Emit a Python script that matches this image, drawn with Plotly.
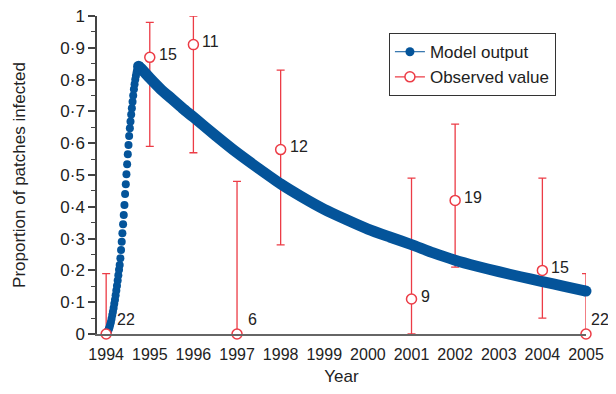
import plotly.graph_objects as go
import numpy as np

# ---- Data ----
# Model output, rising phase (individual dots)
rise_years = [1994.000, 1994.016, 1994.031, 1994.047, 1994.062, 1994.078, 1994.093, 1994.109,
              1994.124, 1994.140, 1994.155, 1994.171, 1994.186, 1994.202, 1994.217, 1994.233,
              1994.248, 1994.264, 1994.279, 1994.295, 1994.310, 1994.326, 1994.341, 1994.357,
              1994.372, 1994.388, 1994.403, 1994.419, 1994.434, 1994.450, 1994.465, 1994.481,
              1994.496, 1994.512, 1994.527, 1994.543, 1994.558, 1994.574, 1994.589, 1994.605,
              1994.620, 1994.636, 1994.651, 1994.667, 1994.682, 1994.698, 1994.713, 1994.729,
              1994.744]
rise_values = [0.000, 0.003, 0.007, 0.011, 0.016, 0.022, 0.030, 0.038,
               0.048, 0.060, 0.070, 0.082, 0.095, 0.108, 0.122, 0.137,
               0.152, 0.168, 0.185, 0.202, 0.217, 0.238, 0.264, 0.290,
               0.317, 0.345, 0.374, 0.406, 0.440, 0.471, 0.502, 0.534,
               0.565, 0.594, 0.623, 0.647, 0.668, 0.690, 0.710, 0.730,
               0.750, 0.770, 0.785, 0.800, 0.812, 0.823, 0.832, 0.838,
               0.842]

# Model output, decay phase (dense band)
decay_years = [1994.744, 1994.8, 1994.9, 1995.0, 1995.25, 1995.5, 1995.75, 1996.0,
               1996.5, 1997.0, 1997.5, 1998.0, 1998.5, 1999.0, 1999.5, 2000.0,
               2000.5, 2001.0, 2001.5, 2002.0, 2002.5, 2003.0, 2003.5, 2004.0,
               2004.5, 2005.0]
decay_values = [0.842, 0.835, 0.820, 0.805, 0.770, 0.740, 0.710, 0.682,
                0.625, 0.570, 0.520, 0.472, 0.430, 0.392, 0.360, 0.330,
                0.305, 0.281, 0.255, 0.232, 0.213, 0.196, 0.180, 0.165,
                0.150, 0.135]

# Observed values
obs_years = [1994, 1995, 1996, 1997, 1998, 2001, 2002, 2004, 2005]
obs_values = [0.0, 0.87, 0.91, 0.0, 0.58, 0.11, 0.42, 0.20, 0.0]
obs_low = [0.0, 0.59, 0.57, 0.0, 0.28, 0.0, 0.21, 0.05, 0.0]
obs_high = [0.19, 0.98, 1.0, 0.48, 0.83, 0.49, 0.66, 0.49, 0.19]
obs_n = [22, 15, 11, 6, 12, 9, 19, 15, 22]

year_ticks = list(range(1994, 2006))
y_ticks = [0, 0.1, 0.2, 0.3, 0.4, 0.5, 0.6, 0.7, 0.8, 0.9, 1.0]
y_ticktext = ['0', '0·1', '0·2', '0·3', '0·4', '0·5', '0·6', '0·7', '0·8', '0·9', '1']

BLUE = '#04549a'
RED = '#ec3c46'
FONT = 'Liberation Sans, Arial, sans-serif'
TXT = '#222'

err_plus = [h - v for h, v in zip(obs_high, obs_values)]
err_minus = [v - l for v, l in zip(obs_values, obs_low)]

fig = go.Figure()

# error bars (under the model curve)
fig.add_trace(go.Scatter(
    x=obs_years, y=obs_values, mode='markers',
    marker=dict(size=1, color='rgba(0,0,0,0)'),
    error_y=dict(type='data', array=err_plus, arrayminus=err_minus,
                 color=RED, thickness=1.3, width=4),
    showlegend=False, hoverinfo='skip', cliponaxis=False))

# model decay band
fig.add_trace(go.Scatter(
    x=decay_years, y=decay_values, mode='lines',
    line=dict(color=BLUE, width=11, shape='spline', smoothing=0.6),
    showlegend=False, cliponaxis=False))
# rounded ends of the band
fig.add_trace(go.Scatter(
    x=[decay_years[0], decay_years[-1]], y=[decay_values[0], decay_values[-1]],
    mode='markers', marker=dict(color=BLUE, size=11),
    showlegend=False, cliponaxis=False))

# model rising dots
fig.add_trace(go.Scatter(
    x=rise_years, y=rise_values, mode='markers',
    marker=dict(color=BLUE, size=8),
    showlegend=False, cliponaxis=False))

# observed markers
fig.add_trace(go.Scatter(
    x=obs_years, y=obs_values, mode='markers',
    marker=dict(symbol='circle', size=10, color='white',
                line=dict(color=RED, width=1.5)),
    showlegend=False, cliponaxis=False))

# legend entries
fig.add_trace(go.Scatter(
    x=[None], y=[None], mode='lines+markers', name='Model output',
    line=dict(color=BLUE, width=1), marker=dict(color=BLUE, size=9),
    legendgroup='a'))
fig.add_trace(go.Scatter(
    x=[None], y=[None], mode='lines+markers', name='Observed value',
    line=dict(color=RED, width=1.3),
    marker=dict(color='white', size=10, line=dict(color=RED, width=1.5)),
    legendgroup='b'))

last_year = max(obs_years)
for yr, v, n in zip(obs_years, obs_values, obs_n):
    if v == 0:
        xs, ys = (3 if yr == last_year else 9), 15
    else:
        xs, ys = 7, 3
    fig.add_annotation(x=yr, y=v, text=str(n), showarrow=False,
                       xanchor='left', yanchor='middle',
                       xshift=xs, yshift=ys,
                       font=dict(family=FONT, size=16, color=TXT))

# the page body has an 8px margin, so the figure is sized/offset to compensate
fig.update_layout(
    width=600, height=378,
    margin=dict(l=89, r=22, t=8, b=52, autoexpand=False),
    paper_bgcolor='white', plot_bgcolor='white',
    font=dict(family=FONT, size=15, color=TXT),
    legend=dict(x=0.597, y=0.946, xanchor='left', yanchor='top',
                bordercolor='#333', borderwidth=1, bgcolor='white',
                font=dict(family=FONT, size=17, color=TXT),
                tracegroupgap=0, traceorder='grouped'),
    showlegend=True,
)

fig.update_xaxes(
    range=[1993.79, 2005.0], tickmode='array', tickvals=year_ticks,
    ticktext=[str(y) for y in year_ticks],
    showgrid=False, zeroline=False, showline=True, linecolor='#666', linewidth=2,
    ticks='', ticklabelstandoff=5, automargin=False, ticklabeloverflow='allow',
    tickfont=dict(family=FONT, size=16, color=TXT),
    title=dict(text='Year', font=dict(family=FONT, size=17, color=TXT), standoff=9))

fig.update_yaxes(
    range=[0, 1.0], tickmode='array', tickvals=y_ticks, ticktext=y_ticktext,
    showgrid=False, zeroline=False, showline=True, linecolor='#444', linewidth=1.5,
    ticks='outside', ticklen=7, tickwidth=1.5, tickcolor='#444', automargin=False,
    ticklabeloverflow='allow',
    minor=dict(tickvals=list(np.round(np.arange(0.05, 1.0, 0.1), 2)),
               ticks='outside', ticklen=4, tickwidth=1.2, tickcolor='#444'),
    tickfont=dict(family=FONT, size=17, color=TXT),
    title=dict(text='Proportion of patches infected',
               font=dict(family=FONT, size=17, color=TXT), standoff=30))

fig.write_html('out.html')
